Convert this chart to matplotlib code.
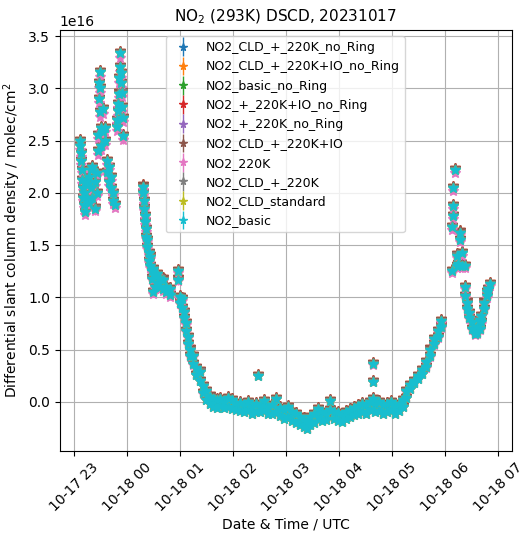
import matplotlib
matplotlib.use("Agg")
import matplotlib.pyplot as plt
import matplotlib.dates as mdates
from matplotlib.container import ErrorbarContainer
from matplotlib.legend_handler import HandlerErrorbar
import numpy as np
import pandas as pd

# minutes after 2023-10-17 23:00 UTC, and NO2 DSCD (x1e16 molec/cm2) of NO2_basic
minutes = [7, 7, 8, 8, 9, 9, 10, 10, 11, 11, 12, 12, 15, 15, 17, 17, 19, 19, 21, 21, 24, 24, 26, 26,
           27, 27, 28, 28, 29, 29, 29, 31, 31, 33, 33, 35, 35, 37, 37, 40, 40, 42, 42, 44, 44, 46,
           49, 49, 50, 50, 51, 51, 52, 52, 53, 53, 54, 54, 55, 55,
           78, 78, 79, 79, 80, 80, 82, 82, 83, 83, 85, 85, 86, 86, 88, 88, 90, 90, 92, 92, 94, 94,
           97, 97, 101, 101, 104, 104, 109, 109, 118, 118, 120, 120, 122, 122, 125, 125, 127, 127,
           129, 129, 131, 131, 135, 135, 138, 138, 143, 143, 146, 146, 149, 149, 154, 154, 157, 157,
           162, 162, 165, 165, 170, 170, 174, 174, 179, 179, 183, 183, 188, 188, 192, 192, 197, 197,
           201, 201, 206, 206, 208, 211, 211, 215, 215, 220, 220, 224, 224, 229, 229, 233, 233,
           238, 238, 242, 242, 247, 247, 251, 251, 256, 256, 260, 260, 264, 264, 267, 267, 272, 272,
           276, 276, 281, 281, 285, 285, 290, 290, 294, 294, 299, 299, 303, 303, 308, 308, 312, 312,
           317, 317, 321, 321, 326, 326, 331, 331, 335, 335, 338, 338, 338, 341, 341, 345, 345,
           350, 350, 354, 354, 359, 359, 363, 363, 368, 368, 372, 372, 376, 376, 380, 380, 385, 385,
           389, 389, 394, 394, 398, 398, 403, 403, 408, 408, 412, 412, 415, 415,
           428, 428, 429, 429, 429, 431, 433, 433, 435, 437, 437, 439, 439, 443, 443, 443, 445, 445,
           447, 447, 450, 450, 454, 454, 456, 456, 459, 459, 461, 461, 464, 464, 467, 467, 469, 471]
no2_basic = [2.50, 2.45, 2.38, 2.30, 2.22, 2.12, 2.05, 1.95, 1.88, 2.00, 1.82, 2.10, 1.95, 2.08,
             2.15, 1.90, 2.05, 2.22, 2.25, 1.95, 2.10, 1.85, 2.19, 2.00,
             2.40, 2.55, 2.90, 3.05, 3.16, 3.00, 2.77, 2.62, 2.45, 2.80, 2.58, 2.62, 2.50, 2.30, 2.20,
             2.25, 2.10, 2.05, 2.15, 2.00, 1.92, 1.88,
             2.63, 2.70, 2.78, 2.85, 2.95, 3.10, 3.20, 3.34, 3.15, 3.05, 2.96, 2.82, 2.72, 2.54,
             2.06, 2.00, 1.92, 1.85, 1.78, 1.72, 1.65, 1.58, 1.55, 1.48, 1.42, 1.35, 1.39, 1.30,
             1.25, 1.18, 1.27, 1.05, 1.20, 1.10, 1.14, 1.22, 1.10, 1.18, 1.17, 1.08, 1.10, 1.05,
             1.08, 1.02, 1.17, 1.25, 1.00, 0.95, 0.98, 0.90, 0.86, 0.80, 0.75, 0.68, 0.62, 0.55,
             0.50, 0.44, 0.44, 0.36, 0.32, 0.26, 0.29, 0.20, 0.15, 0.08, 0.10, 0.02, 0.05, -0.02,
             0.03, -0.05, 0.02, -0.06, -0.04, 0.03, 0.00, -0.06, 0.04, -0.05, 0.02, -0.07,
             -0.02, -0.08, -0.01, -0.09, -0.03, -0.10, 0.00, -0.08, -0.05, -0.12, -0.02, -0.10,
             0.25, -0.04, -0.10, 0.01, -0.08, -0.05, -0.12, -0.03, -0.12, 0.03, -0.10, -0.06, -0.14,
             -0.08, -0.16, -0.05, -0.15, -0.10, -0.18, -0.12, -0.20, -0.15, -0.22, -0.17, -0.24,
             -0.19, -0.26, -0.15, -0.22, -0.12, -0.20, -0.07, -0.15, -0.10, -0.18, -0.12, -0.17,
             0.01, -0.08, -0.10, -0.16, -0.11, -0.18, -0.13, -0.19, -0.10, -0.16, -0.08, -0.15,
             -0.06, -0.13, -0.04, -0.12, -0.02, -0.10, -0.03, -0.12, 0.00, -0.08, 0.03, 0.19, 0.36,
             -0.02, -0.10, 0.00, -0.09, -0.03, -0.12, -0.02, -0.10, 0.00, -0.08, -0.04, -0.12,
             -0.02, -0.09, -0.05, 0.02, 0.04, 0.10, 0.12, 0.16, 0.18, 0.20, 0.22, 0.25, 0.27, 0.30,
             0.33, 0.38, 0.44, 0.50, 0.55, 0.60, 0.62, 0.68, 0.72, 0.77,
             1.67, 1.25, 1.78, 1.87, 2.05, 2.22, 1.30, 1.40, 1.32, 1.62, 1.55, 1.42, 1.30,
             1.30, 1.01, 1.10, 0.95, 0.89, 0.85, 0.80, 0.76, 0.70, 0.68, 0.65, 0.66, 0.72,
             0.70, 0.78, 0.76, 0.82, 0.89, 0.95, 1.01, 1.05, 1.08, 1.13]

series_names = ["NO2_CLD_+_220K_no_Ring", "NO2_CLD_+_220K+IO_no_Ring", "NO2_basic_no_Ring",
                "NO2_+_220K+IO_no_Ring", "NO2_+_220K_no_Ring", "NO2_CLD_+_220K+IO",
                "NO2_220K", "NO2_CLD_+_220K", "NO2_CLD_standard", "NO2_basic"]
# relative deviation of each fit from NO2_basic (scale factor, offset x1e16)
series_scale = [1.00, 1.00, 1.00, 1.00, 1.00, 1.00, 0.985, 1.00, 1.00, 1.00]
series_offset = [0.01, 0.02, 0.01, 0.02, 0.01, 0.02, 0.0, 0.01, 0.0, 0.0]
dscd_error = 0.03  # x1e16

start = pd.Timestamp("2023-10-17 23:00")
times = [start + pd.Timedelta(minutes=m) for m in minutes]
base = np.array(no2_basic)

fig = plt.figure(figsize=(5.2, 5.33), dpi=100)
ax = fig.add_axes([0.115, 0.154, 0.870, 0.790])
colors = plt.rcParams['axes.prop_cycle'].by_key()['color']
for i, name in enumerate(series_names):
    vals = (base * series_scale[i] + series_offset[i]) * 1e16
    ax.errorbar(times, vals, yerr=dscd_error * 1e16, fmt='*', markersize=7,
                color=colors[i % 10], label=name, elinewidth=1)

ax.set_xlim(pd.Timestamp("2023-10-17 22:44"), pd.Timestamp("2023-10-18 07:16"))
ax.set_ylim(-0.47e16, 3.56e16)
ax.set_yticks(np.arange(0, 3.51, 0.5) * 1e16)
ax.xaxis.set_major_locator(mdates.HourLocator())
ax.xaxis.set_major_formatter(mdates.DateFormatter('%m-%d %H'))
plt.setp(ax.get_xticklabels(), rotation=45)
ax.grid(True)
ax.set_title("NO$_2$ (293K) DSCD, 20231017", fontsize=11)
ax.set_xlabel("Date & Time / UTC", labelpad=2)
ax.set_ylabel("Differential slant column density / molec/cm$^2$")
ax.legend(loc='upper left', bbox_to_anchor=(0.22, 1.0), fontsize=9, markerscale=0.8,
          handler_map={ErrorbarContainer: HandlerErrorbar(xerr_size=0.75)})
fig.savefig("out.png", dpi=100)
